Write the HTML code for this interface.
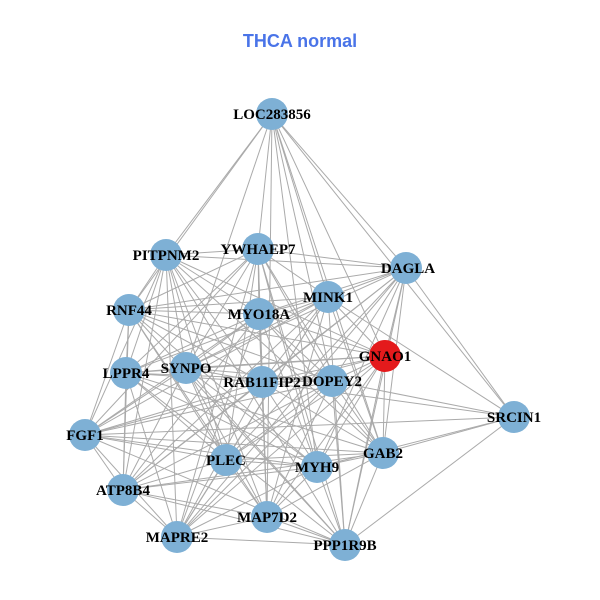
<!DOCTYPE html>
<html><head><meta charset="utf-8"><style>
html,body{margin:0;padding:0;background:#fff;width:600px;height:600px;overflow:hidden}
svg text{font-family:"Liberation Serif",serif;font-weight:bold;font-size:15px;fill:#000}
</style></head><body>
<svg id="s" width="600" height="600" viewBox="0 0 600 600">
<text x="300" y="47" text-anchor="middle" style="font-family:'Liberation Sans',sans-serif;font-size:18px;fill:#4a74e8;font-weight:bold">THCA normal</text>
<g id="e" stroke="#aaaaaa" stroke-width="1"></g>
<g id="n"></g>
<g id="t">
<text x="272" y="119" text-anchor="middle">LOC283856</text>
<text x="166" y="260" text-anchor="middle">PITPNM2</text>
<text x="258" y="254" text-anchor="middle">YWHAEP7</text>
<text x="408" y="273" text-anchor="middle">DAGLA</text>
<text x="129" y="315" text-anchor="middle">RNF44</text>
<text x="259" y="319" text-anchor="middle">MYO18A</text>
<text x="328" y="302" text-anchor="middle">MINK1</text>
<text x="385" y="361" text-anchor="middle">GNAO1</text>
<text x="126" y="378" text-anchor="middle">LPPR4</text>
<text x="186" y="373" text-anchor="middle">SYNPO</text>
<text x="262" y="387" text-anchor="middle">RAB11FIP2</text>
<text x="332" y="386" text-anchor="middle">DOPEY2</text>
<text x="514" y="422" text-anchor="middle">SRCIN1</text>
<text x="85" y="440" text-anchor="middle">FGF1</text>
<text x="383" y="458" text-anchor="middle">GAB2</text>
<text x="226" y="465" text-anchor="middle">PLEC</text>
<text x="317" y="472" text-anchor="middle">MYH9</text>
<text x="123" y="495" text-anchor="middle">ATP8B4</text>
<text x="267" y="522" text-anchor="middle">MAP7D2</text>
<text x="177" y="542" text-anchor="middle">MAPRE2</text>
<text x="345" y="550" text-anchor="middle">PPP1R9B</text>
</g>
</svg>
<script>
var N={LOC:[272,114],PIT:[166,255],YWH:[258,249],DAG:[406,268],RNF:[129,310],MYO:[259,314],MIN:[328,297],GNA:[385,356],LPP:[126,373],SYN:[186,368],RAB:[262,382],DOP:[332,381],SRC:[514,417],FGF:[85,435],GAB:[383,453],PLE:[226,460],MYH:[317,467],ATP:[123,490],MAP:[267,517],MAPR:[177,537],PPP:[345,545]};
var srcOK=["DAG","GNA","DOP","GAB","MYH","PPP","MIN","RAB","FGF","LOC"];
var k=Object.keys(N),e=document.getElementById('e'),n=document.getElementById('n'),h="";
for(var i=0;i<k.length;i++)for(var j=i+1;j<k.length;j++){var a=k[i],b=k[j];
if(a=="SRC"||b=="SRC"){var o=a=="SRC"?b:a;if(srcOK.indexOf(o)<0)continue;}
if((a=="LOC"||b=="LOC")){var o2=a=="LOC"?b:a;if(["FGF","ATP","MAPR","LPP"].indexOf(o2)>=0)continue;}
if((i*7+j*3)%5==0)continue;
h+='<line x1="'+N[a][0]+'" y1="'+N[a][1]+'" x2="'+N[b][0]+'" y2="'+N[b][1]+'"/>';}
e.innerHTML=h;h="";
for(var i=0;i<k.length;i++){h+='<circle cx="'+N[k[i]][0]+'" cy="'+N[k[i]][1]+'" r="16" fill="'+(k[i]=="GNA"?"#e41a1c":"#7eb0d5")+'"/>';}
n.innerHTML=h;
</script>
</body></html>
